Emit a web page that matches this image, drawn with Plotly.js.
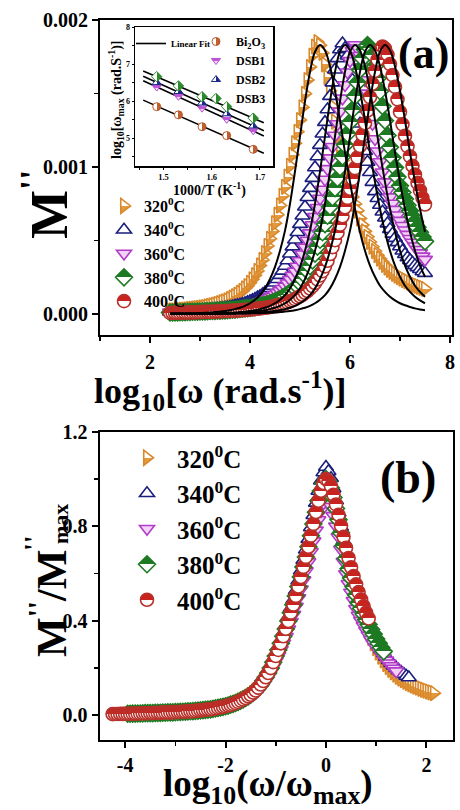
<!DOCTYPE html>
<html>
<head>
<meta charset="utf-8">
<script src="https://cdn.plot.ly/plotly-3.0.1.min.js"></script>
<style>
  html, body { margin: 0; padding: 0; background: #fff; }
  #chart { width: 460px; height: 810px; }
</style>
</head>
<body>
<div id="chart"></div>
<script>
// ---------- data ----------
// Measured angular frequencies, log10(ω / rad·s⁻¹)
const logW = [
  2.40, 2.45, 2.50, 2.55, 2.60, 2.65, 2.70, 2.75, 2.80, 2.85,
  2.90, 2.95, 3.00, 3.05, 3.10, 3.15, 3.20, 3.25, 3.30, 3.35,
  3.40, 3.45, 3.50, 3.55, 3.60, 3.65, 3.70, 3.75, 3.80, 3.85,
  3.90, 3.95, 4.00, 4.05, 4.10, 4.15, 4.20, 4.25, 4.30, 4.35,
  4.40, 4.45, 4.50, 4.55, 4.60, 4.65, 4.70, 4.75, 4.80, 4.85,
  4.90, 4.95, 5.00, 5.05, 5.10, 5.15, 5.20, 5.25, 5.30, 5.35,
  5.40, 5.45, 5.50, 5.55, 5.60, 5.65, 5.70, 5.75, 5.80, 5.85,
  5.90, 5.95, 6.00, 6.05, 6.10, 6.15, 6.20, 6.25, 6.30, 6.35,
  6.40, 6.45, 6.50, 6.55, 6.60, 6.65, 6.70, 6.75, 6.80, 6.85,
  6.90, 6.95, 7.00, 7.05, 7.10, 7.15, 7.20, 7.25, 7.30, 7.35,
  7.40, 7.45, 7.50];

// M'' (in units of 1e-3) at each temperature
const m320 = [
  0.023, 0.024, 0.025, 0.026, 0.028, 0.029, 0.030, 0.032, 0.034, 0.036,
  0.038, 0.040, 0.042, 0.044, 0.047, 0.051, 0.055, 0.059, 0.063, 0.068,
  0.073, 0.080, 0.086, 0.093, 0.102, 0.112, 0.121, 0.132, 0.145, 0.157,
  0.174, 0.190, 0.212, 0.236, 0.264, 0.293, 0.330, 0.368, 0.414, 0.463,
  0.511, 0.562, 0.618, 0.675, 0.738, 0.803, 0.865, 0.934, 1.008, 1.083,
  1.162, 1.239, 1.319, 1.406, 1.498, 1.591, 1.680, 1.758, 1.819, 1.850,
  1.828, 1.776, 1.698, 1.610, 1.518, 1.411, 1.308, 1.203, 1.119, 1.045,
  0.975, 0.907, 0.843, 0.796, 0.749, 0.703, 0.650, 0.605, 0.562, 0.525,
  0.490, 0.458, 0.428, 0.400, 0.376, 0.354, 0.334, 0.316, 0.300, 0.286,
  0.273, 0.261, 0.250, 0.240, 0.231, 0.222, 0.214, 0.206, 0.198, 0.191,
  0.184, 0.177, 0.171];
const m340 = [
  0.015, 0.016, 0.017, 0.017, 0.018, 0.019, 0.020, 0.020, 0.021, 0.022,
  0.023, 0.024, 0.025, 0.026, 0.028, 0.029, 0.030, 0.032, 0.034, 0.036,
  0.038, 0.040, 0.042, 0.044, 0.047, 0.051, 0.055, 0.059, 0.063, 0.068,
  0.073, 0.080, 0.086, 0.093, 0.102, 0.112, 0.121, 0.132, 0.145, 0.157,
  0.174, 0.190, 0.212, 0.236, 0.264, 0.293, 0.326, 0.364, 0.410, 0.458,
  0.505, 0.556, 0.611, 0.668, 0.730, 0.794, 0.856, 0.924, 0.997, 1.071,
  1.149, 1.226, 1.305, 1.391, 1.482, 1.574, 1.662, 1.739, 1.799, 1.840,
  1.808, 1.757, 1.680, 1.592, 1.501, 1.396, 1.294, 1.190, 1.107, 1.034,
  0.964, 0.897, 0.834, 0.787, 0.741, 0.695, 0.655, 0.615, 0.576, 0.545,
  0.516, 0.487, 0.459, 0.430, 0.406, 0.384, 0.366, 0.348, 0.331, 0.317,
  0.304, 0.289, 0.278];
const m360 = [
  0.012, 0.013, 0.014, 0.014, 0.015, 0.015, 0.016, 0.017, 0.017, 0.018,
  0.019, 0.020, 0.020, 0.021, 0.022, 0.023, 0.024, 0.025, 0.026, 0.028,
  0.029, 0.030, 0.032, 0.034, 0.036, 0.038, 0.040, 0.042, 0.044, 0.047,
  0.051, 0.055, 0.059, 0.063, 0.068, 0.072, 0.079, 0.085, 0.092, 0.101,
  0.111, 0.120, 0.131, 0.143, 0.156, 0.172, 0.188, 0.210, 0.234, 0.261,
  0.290, 0.323, 0.360, 0.406, 0.453, 0.500, 0.550, 0.605, 0.661, 0.723,
  0.786, 0.847, 0.915, 0.987, 1.060, 1.138, 1.214, 1.292, 1.377, 1.467,
  1.558, 1.645, 1.722, 1.790, 1.830, 1.808, 1.757, 1.680, 1.592, 1.501,
  1.396, 1.294, 1.190, 1.107, 1.034, 0.964, 0.897, 0.840, 0.795, 0.752,
  0.710, 0.672, 0.635, 0.600, 0.570, 0.540, 0.512, 0.486, 0.461, 0.437,
  0.414, 0.392, 0.370];
const m380 = [
  0.010, 0.010, 0.011, 0.011, 0.012, 0.012, 0.013, 0.014, 0.014, 0.015,
  0.015, 0.016, 0.017, 0.017, 0.018, 0.019, 0.020, 0.020, 0.021, 0.022,
  0.023, 0.024, 0.025, 0.026, 0.028, 0.029, 0.030, 0.032, 0.034, 0.036,
  0.038, 0.040, 0.042, 0.044, 0.047, 0.051, 0.055, 0.059, 0.063, 0.068,
  0.073, 0.080, 0.086, 0.093, 0.102, 0.112, 0.121, 0.132, 0.145, 0.157,
  0.174, 0.190, 0.212, 0.236, 0.264, 0.293, 0.326, 0.364, 0.410, 0.458,
  0.505, 0.556, 0.611, 0.668, 0.730, 0.794, 0.856, 0.924, 0.997, 1.071,
  1.149, 1.226, 1.305, 1.391, 1.482, 1.574, 1.662, 1.739, 1.799, 1.830,
  1.810, 1.762, 1.688, 1.603, 1.515, 1.414, 1.315, 1.215, 1.135, 1.064,
  0.996, 0.932, 0.872, 0.827, 0.783, 0.740, 0.702, 0.664, 0.628, 0.590,
  0.556, 0.524, 0.494];
const m400 = [
  0.007, 0.008, 0.008, 0.009, 0.009, 0.010, 0.010, 0.010, 0.011, 0.011,
  0.012, 0.012, 0.013, 0.014, 0.014, 0.015, 0.015, 0.016, 0.017, 0.017,
  0.018, 0.019, 0.020, 0.020, 0.021, 0.022, 0.023, 0.024, 0.025, 0.026,
  0.028, 0.029, 0.030, 0.032, 0.034, 0.036, 0.038, 0.040, 0.042, 0.044,
  0.047, 0.051, 0.055, 0.059, 0.063, 0.068, 0.073, 0.079, 0.086, 0.093,
  0.101, 0.111, 0.120, 0.131, 0.144, 0.156, 0.173, 0.189, 0.211, 0.235,
  0.262, 0.291, 0.324, 0.362, 0.408, 0.455, 0.502, 0.553, 0.608, 0.665,
  0.726, 0.790, 0.852, 0.919, 0.992, 1.065, 1.143, 1.220, 1.298, 1.384,
  1.475, 1.566, 1.654, 1.730, 1.790, 1.820, 1.805, 1.765, 1.700, 1.625,
  1.545, 1.460, 1.375, 1.290, 1.212, 1.140, 1.072, 1.008, 0.948, 0.892,
  0.840, 0.790, 0.745];

// Peak position log10(ω_max) and normalising M''_max (1e-3) of each run
const peakLogW = [5.35, 5.85, 6.10, 6.35, 6.65];
const normMax = [1.85, 1.75, 1.99, 1.83, 1.82];

// Fitted M'' curves on a 0.1-decade grid (1e-3)
const fitLogW = [2.4, 2.5, 2.6, 2.7, 2.8, 2.9, 3.0, 3.1, 3.2, 3.3, 3.4, 3.5, 3.6, 3.7, 3.8, 3.9, 4.0, 4.1,
  4.2, 4.3, 4.4, 4.5, 4.6, 4.7, 4.8, 4.9, 5.0, 5.1, 5.2, 5.3, 5.4, 5.5, 5.6, 5.7, 5.8, 5.9, 6.0, 6.1, 6.2,
  6.3, 6.4, 6.5, 6.6, 6.7, 6.8, 6.9, 7.0, 7.1, 7.2, 7.3, 7.4, 7.5];
const fit320 = [0.002, 0.003, 0.003, 0.004, 0.005, 0.005, 0.007, 0.008, 0.010, 0.013, 0.016, 0.020, 0.026,
  0.033, 0.042, 0.055, 0.073, 0.097, 0.128, 0.174, 0.238, 0.320, 0.430, 0.567, 0.750, 0.970, 1.208, 1.446,
  1.647, 1.784, 1.830, 1.793, 1.684, 1.519, 1.318, 1.098, 0.897, 0.714, 0.558, 0.430, 0.329, 0.253, 0.192,
  0.150, 0.117, 0.092, 0.073, 0.059, 0.048, 0.038, 0.031, 0.026];
const fit340 = [0.001, 0.001, 0.002, 0.002, 0.002, 0.002, 0.003, 0.003, 0.004, 0.005, 0.005, 0.007, 0.008,
  0.010, 0.013, 0.016, 0.020, 0.026, 0.033, 0.042, 0.055, 0.073, 0.097, 0.128, 0.174, 0.238, 0.320, 0.430,
  0.567, 0.750, 0.970, 1.208, 1.446, 1.647, 1.784, 1.830, 1.793, 1.684, 1.519, 1.318, 1.098, 0.897, 0.714,
  0.558, 0.430, 0.329, 0.253, 0.192, 0.150, 0.117, 0.092, 0.073];
const fit360 = [0.001, 0.001, 0.001, 0.001, 0.002, 0.002, 0.002, 0.002, 0.003, 0.003, 0.004, 0.005, 0.005,
  0.007, 0.008, 0.010, 0.013, 0.016, 0.020, 0.026, 0.033, 0.042, 0.055, 0.073, 0.097, 0.128, 0.174, 0.238,
  0.320, 0.430, 0.567, 0.750, 0.970, 1.208, 1.446, 1.647, 1.784, 1.830, 1.793, 1.684, 1.519, 1.318, 1.098,
  0.897, 0.714, 0.558, 0.430, 0.329, 0.253, 0.192, 0.150, 0.117];
const fit380 = [0.001, 0.001, 0.001, 0.001, 0.001, 0.001, 0.001, 0.002, 0.002, 0.002, 0.002, 0.003, 0.003,
  0.004, 0.005, 0.005, 0.007, 0.008, 0.010, 0.013, 0.016, 0.020, 0.026, 0.033, 0.042, 0.055, 0.073, 0.097,
  0.128, 0.174, 0.238, 0.320, 0.430, 0.567, 0.750, 0.970, 1.208, 1.446, 1.647, 1.784, 1.830, 1.793, 1.684,
  1.519, 1.318, 1.098, 0.897, 0.714, 0.558, 0.430, 0.329, 0.253];
const fit400 = [0.001, 0.001, 0.001, 0.001, 0.001, 0.001, 0.001, 0.001, 0.001, 0.001, 0.002, 0.002, 0.002,
  0.002, 0.003, 0.003, 0.004, 0.005, 0.005, 0.007, 0.008, 0.010, 0.013, 0.016, 0.020, 0.026, 0.033, 0.042,
  0.055, 0.073, 0.097, 0.128, 0.174, 0.238, 0.320, 0.430, 0.567, 0.750, 0.970, 1.208, 1.446, 1.647, 1.784,
  1.830, 1.793, 1.684, 1.519, 1.318, 1.098, 0.897, 0.714, 0.558];

const tempLabels = ['320<sup>0</sup>C', '340<sup>0</sup>C', '360<sup>0</sup>C', '380<sup>0</sup>C', '400<sup>0</sup>C'];

// Arrhenius inset: 1000/T and log10(ω_max) for each composition
const invT = [1.486, 1.531, 1.580, 1.631, 1.686];
const logWmaxBi2O3 = [5.85, 5.63, 5.31, 5.07, 4.70];
const logWmaxDSB1 = [6.38, 6.13, 5.81, 5.51, 5.20];
const logWmaxDSB2 = [6.50, 6.26, 5.95, 5.66, 5.33];
const logWmaxDSB3 = [6.66, 6.41, 6.12, 5.85, 5.54];
const sampleLabels = ['Bi<sub>2</sub>O<sub>3</sub>', 'DSB1', 'DSB2', 'DSB3'];
const fitSpan = [1.458, 1.708];

// ---------- styling ----------
const FONT = 'Liberation Serif, Times New Roman, serif';
const W = 460, H = 810;
const px = v => v / W;
const py = v => 1 - v / H;
const scale = (arr, k) => arr.map(v => v * k);

const series = [
  { y: m320, fit: fit320, symbol: 'triangle-right', line: '#D9892C', fill: '#ffffff', grad: '#E39A3C' },
  { y: m340, fit: fit340, symbol: 'triangle-up', line: '#1B1E7C', fill: '#ffffff', grad: null },
  { y: m360, fit: fit360, symbol: 'triangle-down', line: '#B13CC8', fill: '#F3D2F8', grad: null },
  { y: m380, fit: fit380, symbol: 'diamond', line: '#1E7A22', fill: '#1E7A22', grad: '#ffffff' },
  { y: m400, fit: fit400, symbol: 'circle', line: '#B8302A', fill: '#C8231E', grad: '#ffffff' }
];

function markerOf(s, size) {
  const mk = { symbol: s.symbol, size: size, color: s.fill, line: { color: s.line, width: 1.6 } };
  if (s.grad) mk.gradient = { type: 'vertical', color: s.grad };
  return mk;
}

const traces = [];

// (a) M'' spectra
series.forEach((s, i) => {
  traces.push({
    type: 'scatter', mode: 'markers', x: logW, y: scale(s.y, 1e-3),
    xaxis: 'x', yaxis: 'y', name: tempLabels[i], legend: 'legend',
    marker: markerOf(s, 13), hoverinfo: 'skip'
  });
});
series.forEach(s => {
  traces.push({
    type: 'scatter', mode: 'lines', x: fitLogW, y: scale(s.fit, 1e-3),
    xaxis: 'x', yaxis: 'y', showlegend: false,
    line: { color: '#000', width: 2, shape: 'spline' }, hoverinfo: 'skip'
  });
});

// (b) scaled master curve
series.forEach((s, i) => {
  traces.push({
    type: 'scatter', mode: 'markers',
    x: logW.map(v => v - peakLogW[i]), y: s.y.map(v => v / normMax[i]),
    xaxis: 'x2', yaxis: 'y2', name: tempLabels[i], legend: 'legend2',
    marker: markerOf(s, 13), hoverinfo: 'skip'
  });
});

// Inset: Arrhenius plot with linear fits
const samples = [
  { y: logWmaxBi2O3, symbol: 'circle', line: '#B9572A', fill: '#ffffff', grad: '#C0602E', type: 'horizontal' },
  { y: logWmaxDSB1, symbol: 'triangle-down', line: '#B94FD2', fill: '#C256DA', grad: '#F4D8F8', type: 'vertical' },
  { y: logWmaxDSB2, symbol: 'triangle-up', line: '#1B2A8A', fill: '#ffffff', grad: '#1B2A8A', type: 'horizontal' },
  { y: logWmaxDSB3, symbol: 'diamond', line: '#2A8A2A', fill: '#ffffff', grad: '#2A8A2A', type: 'horizontal' }
];

function linearFit(x, y) {
  const n = x.length;
  const mx = x.reduce((a, b) => a + b, 0) / n;
  const my = y.reduce((a, b) => a + b, 0) / n;
  let sxy = 0, sxx = 0;
  for (let i = 0; i < n; i++) { sxy += (x[i] - mx) * (y[i] - my); sxx += (x[i] - mx) ** 2; }
  const b = sxy / sxx;
  return v => my + b * (v - mx);
}

samples.forEach((s, i) => {
  const f = linearFit(invT, s.y);
  traces.push({
    type: 'scatter', mode: 'lines', x: fitSpan, y: fitSpan.map(f),
    xaxis: 'x3', yaxis: 'y3', name: 'Linear Fit', legend: 'legend4',
    showlegend: i === 0, line: { color: '#000', width: 1.6 }, hoverinfo: 'skip'
  });
});
samples.forEach((s, i) => {
  traces.push({
    type: 'scatter', mode: 'markers', x: invT, y: s.y,
    xaxis: 'x3', yaxis: 'y3', name: sampleLabels[i], legend: 'legend3',
    marker: { symbol: s.symbol, size: 8, color: s.fill, line: { color: s.line, width: 1 },
              gradient: { type: s.type, color: s.grad } },
    hoverinfo: 'skip'
  });
});

// ---------- axes ----------
const frame = {
  showline: true, linecolor: '#000', linewidth: 2, mirror: true,
  showgrid: false, zeroline: false, ticks: 'outside', tickcolor: '#000',
  tickwidth: 2, ticklen: 6, tickfont: { family: FONT, size: 20, color: '#000', weight: 'bold' }
};

const layout = {
  width: W, height: H,
  margin: { l: 0, r: 0, t: 0, b: 0 },
  paper_bgcolor: '#fff', plot_bgcolor: 'rgba(0,0,0,0)',
  font: { family: FONT, color: '#000', weight: 'bold' },
  showlegend: true,
  xaxis: Object.assign({}, frame, {
    domain: [px(100), px(452)], range: [1, 8.04], anchor: 'y',
    tick0: 0, dtick: 2, ticklabelstandoff: 2,
    minor: { dtick: 1, tick0: 0, ticks: 'outside', ticklen: 4, tickwidth: 1.5, tickcolor: '#000' }
  }),
  yaxis: Object.assign({}, frame, {
    domain: [py(335), py(20)], range: [-0.000143, 0.002], anchor: 'x',
    tick0: 0, dtick: 0.001, tickformat: '.3f',
    minor: { dtick: 0.0005, tick0: 0, ticks: 'outside', ticklen: 4, tickwidth: 1.5, tickcolor: '#000' }
  }),
  xaxis2: Object.assign({}, frame, {
    domain: [px(99.5), px(452.5)], range: [-4.51, 2.52], anchor: 'y2',
    tickmode: 'array', tickvals: [-4, -2, 0, 2], ticktext: ['-4', '-2', '0', '2'],
    minor: { dtick: 1, tick0: 0, ticks: 'outside', ticklen: 4, tickwidth: 1.5, tickcolor: '#000' }
  }),
  yaxis2: Object.assign({}, frame, {
    domain: [py(740), py(432)], range: [-0.106, 1.2], anchor: 'x2',
    tick0: 0, dtick: 0.4, tickformat: '.1f',
    minor: { dtick: 0.2, tick0: 0, ticks: 'outside', ticklen: 4, tickwidth: 1.5, tickcolor: '#000' }
  }),
  xaxis3: Object.assign({}, frame, {
    domain: [px(135), px(273)], range: [1.441, 1.727], anchor: 'y3',
    linewidth: 1.5, tickwidth: 1, ticklen: 2, tick0: 1.5, dtick: 0.1, tickformat: '.1f',
    ticklabelstandoff: 0,
    tickfont: { family: FONT, size: 8.5, color: '#000', weight: 'bold' },
    minor: { dtick: 0.05, tick0: 1.5, ticks: 'outside', ticklen: 2, tickwidth: 1, tickcolor: '#000' }
  }),
  yaxis3: Object.assign({}, frame, {
    domain: [py(166), py(27)], range: [4.25, 8.0], anchor: 'x3',
    linewidth: 1.5, tickwidth: 1, ticklen: 2, tick0: 5, dtick: 1,
    tickfont: { family: FONT, size: 8, color: '#000', weight: 'bold' },
    minor: { dtick: 0.5, tick0: 5, ticks: 'outside', ticklen: 2, tickwidth: 1, tickcolor: '#000' }
  }),
  legend: {
    x: px(104), y: py(189), xanchor: 'left', yanchor: 'top',
    bgcolor: 'rgba(0,0,0,0)', borderwidth: 0, itemwidth: 30,
    font: { family: FONT, size: 16, color: '#000', weight: 'bold' }
  },
  legend2: {
    x: px(117), y: py(435), xanchor: 'left', yanchor: 'top',
    bgcolor: 'rgba(0,0,0,0)', borderwidth: 0, itemwidth: 50,
    font: { family: FONT, size: 25, color: '#000', weight: 'bold' }
  },
  legend3: {
    x: px(196), y: py(27), xanchor: 'left', yanchor: 'top',
    bgcolor: 'rgba(0,0,0,0)', borderwidth: 0, itemwidth: 30,
    font: { family: FONT, size: 12, color: '#000', weight: 'bold' }
  },
  legend4: {
    x: px(131), y: py(29), xanchor: 'left', yanchor: 'top',
    bgcolor: 'rgba(0,0,0,0)', borderwidth: 0, itemwidth: 30,
    font: { family: FONT, size: 9, color: '#000', weight: 'bold' }
  },
  annotations: [
    { text: '(a)', x: px(423), y: py(54), font: { size: 44 } },
    { text: '(b)', x: px(408), y: py(477), font: { size: 46 } },
    { text: 'log<sub>10</sub>[ω (rad.s<sup>-1</sup>)]', x: px(220), y: py(391), font: { size: 36 } },
    { text: "M<sup>''</sup>", x: px(45), y: py(205), textangle: -90, font: { size: 52 } },
    { text: 'log<sub>10</sub>(ω/ω<sub>max</sub>)', x: px(268), y: py(786), font: { size: 37 } },
    // M''/M''max with the primes stacked over the subscript
    { text: "M<sup>''</sup>/M", x: px(48), y: py(604), textangle: -90, font: { size: 42 } },
    { text: "''", x: px(33), y: py(543), textangle: -90, font: { size: 28 } },
    { text: 'max', x: px(60), y: py(524), textangle: -90, font: { size: 22 } },
    { text: '1000/T (K<sup>-1</sup>)', x: px(209), y: py(189), font: { size: 14 } },
    { text: 'log<sub>10</sub>[ω<sub>max</sub> (rad.S<sup>-1</sup>)]', x: px(116), y: py(100), textangle: -90, font: { size: 14 } }
  ].map(a => Object.assign({
    xref: 'paper', yref: 'paper', showarrow: false, xanchor: 'center', yanchor: 'middle'
  }, a, { font: Object.assign({ family: FONT, color: '#000', weight: 'bold' }, a.font) }))
};

// Half-filled symbols: turn each two-colour marker gradient into a hard split
function splitGradients(gd) {
  gd.querySelectorAll('linearGradient').forEach(g => {
    const stops = g.querySelectorAll('stop');
    if (stops.length !== 2) return;
    const a = stops[0].cloneNode(), b = stops[1].cloneNode();
    a.setAttribute('offset', '50%');
    b.setAttribute('offset', '50%');
    g.insertBefore(a, stops[1]);
    g.insertBefore(b, stops[1]);
  });
}

Plotly.newPlot('chart', traces, layout, { staticPlot: true, displayModeBar: false })
  .then(splitGradients);
</script>
</body>
</html>
